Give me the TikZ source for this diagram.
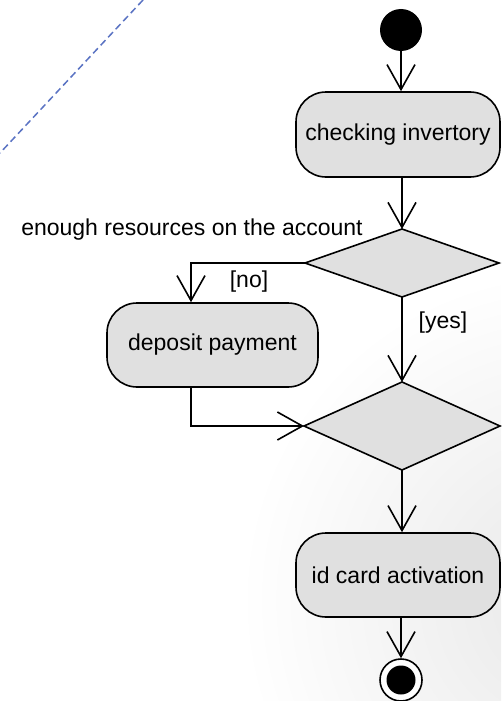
\documentclass[tikz,border=0pt]{standalone}
\usepackage{fontspec}
\setmainfont{Liberation Sans}
\usetikzlibrary{shapes.geometric,arrows.meta}
\definecolor{boxfill}{RGB}{224,224,224}
\definecolor{dashblue}{RGB}{90,115,195}
\definecolor{shadegray}{RGB}{232,232,232}
\tikzset{
  actbox/.style={draw=black, line width=1.6pt, fill=boxfill, rounded corners=30pt,
    inner sep=0pt, font=\fontsize{23}{28}\selectfont},
  decision/.style={draw=black, line width=1.6pt, fill=boxfill, shape=diamond,
    inner sep=0pt, outer sep=0pt},
  flow/.style={line width=1.6pt, -{Straight Barb[length=25pt,width=28pt,line width=1.6pt]}},
  lbl/.style={font=\fontsize{23}{28}\selectfont, inner sep=0pt},
}
\begin{document}
\begin{tikzpicture}[x=1pt,y=-1pt]
\useasboundingbox (0,0) rectangle (501,701);
\fill[white] (0,0) rectangle (501,701);
\begin{scope}
  \clip (0,0) rectangle (501,701);
  \shade[inner color=shadegray, outer color=white] (570,600) circle (330);
\end{scope}
% dashed line
\draw[dashblue, line width=1.5pt, dash pattern=on 7pt off 4pt] (143,0) -- (0,153);

% nodes
\node[circle, fill=black, minimum size=42pt, inner sep=0pt] (start) at (401,30) {};
\node[actbox, minimum width=204pt, minimum height=85pt] (chk) at (398,134.5) {checking invertory};
\node[decision, minimum width=194pt, minimum height=68pt] (d1) at (402,263) {};
\node[actbox, minimum width=211pt, minimum height=84pt] (dep) at (212.5,345) {deposit payment};
\node[decision, minimum width=196pt, minimum height=88pt] (d2) at (402,426) {};
\node[actbox, minimum width=204pt, minimum height=84pt] (act) at (398,575) {id card activation};
\node[circle, draw=black, line width=1.6pt, fill=white, minimum size=42pt, inner sep=0pt] (fin) at (401,680) {};
\node[circle, fill=black, minimum size=29pt, inner sep=0pt] (fininner) at (fin.center) {};
\coordinate (xno) at (191,0);

% labels
\node[lbl] (cond) at (192,230) {enough resources on the account};
\node[lbl] (no) at (249,282) {[no]};
\node[lbl] (yes) at (443,323) {[yes]};

% connectors
\draw[flow] (start.south) -- (chk.north -| start.south);
\draw[flow] (chk.south -| d1.north) -- (d1.north);
\draw[flow] (d1.west) -| (dep.north -| xno);
\draw[flow] (d1.south) -- (d2.north);
\draw[flow] (dep.south -| xno) |- (d2.west);
\draw[flow] (d2.south) -- (act.north -| d2.south);
\draw[flow] (act.south -| fin.north) -- (fin.north);
\end{tikzpicture}
\end{document}
